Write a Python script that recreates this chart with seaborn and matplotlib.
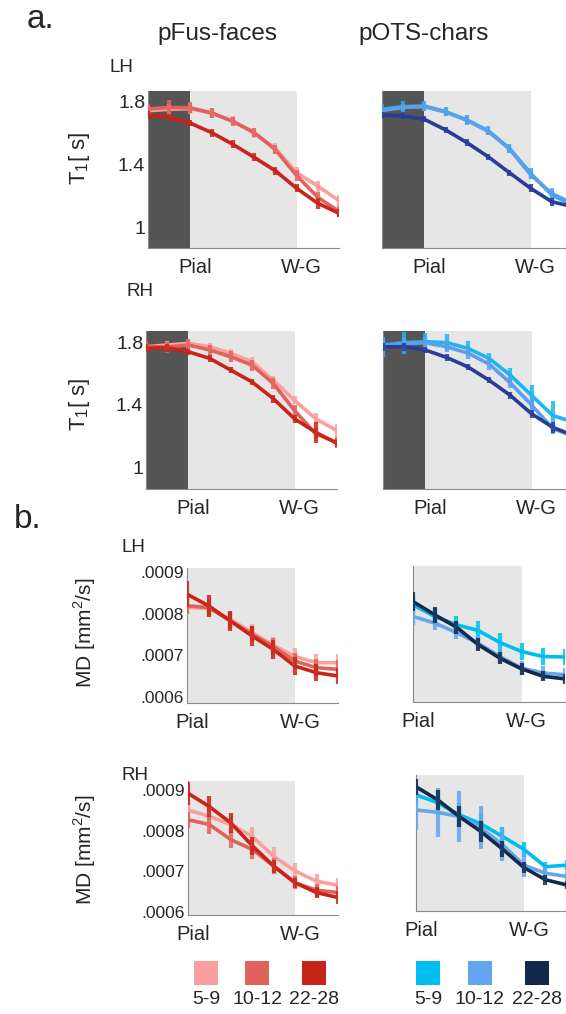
import numpy as np
import pandas as pd
import matplotlib
matplotlib.use("Agg")
import matplotlib.pyplot as plt
import matplotlib.transforms as mtransforms
import seaborn as sns

# ---- data -------------------------------------------------------------
ages = ["5-9", "10-12", "22-28"]
red_colors = ["#F9A09C", "#E0625D", "#C82418"]
blue_colors_t1 = ["#1BB6F0", "#5E9EEA", "#283C98"]
blue_colors_md = ["#00BDF0", "#62A6EE", "#13294B"]

t1_depth = [0, 1, 2, 3, 4, 5, 6, 7, 8, 9]
md_depth = [2, 3, 4, 5, 6, 7, 8, 9]

# T1 [s], left hemisphere
t1_lh_faces_5_9 = [1.744, 1.753, 1.757, 1.728, 1.680, 1.600, 1.504, 1.348, 1.262, 1.168]
t1_lh_faces_10_12 = [1.755, 1.765, 1.762, 1.730, 1.675, 1.605, 1.495, 1.330, 1.190, 1.100]
t1_lh_faces_22_28 = [1.717, 1.702, 1.664, 1.604, 1.529, 1.446, 1.360, 1.248, 1.152, 1.088]
t1_lh_faces_err = [[0.03, 0.035, 0.035, 0.03, 0.03, 0.03, 0.035, 0.035, 0.035, 0.035],
                   [0.035, 0.045, 0.035, 0.03, 0.03, 0.03, 0.03, 0.035, 0.035, 0.035],
                   [0.025, 0.02, 0.02, 0.025, 0.025, 0.025, 0.025, 0.025, 0.035, 0.025]]

t1_lh_chars_5_9 = [1.753, 1.770, 1.774, 1.738, 1.685, 1.616, 1.504, 1.344, 1.205, 1.140]
t1_lh_chars_10_12 = [1.745, 1.765, 1.770, 1.735, 1.683, 1.612, 1.500, 1.335, 1.215, 1.150]
t1_lh_chars_22_28 = [1.717, 1.710, 1.689, 1.621, 1.540, 1.450, 1.348, 1.248, 1.162, 1.130]
t1_lh_chars_err = [[0.035, 0.035, 0.035, 0.03, 0.03, 0.03, 0.03, 0.035, 0.035, 0.035],
                   [0.025, 0.025, 0.025, 0.025, 0.025, 0.025, 0.025, 0.03, 0.035, 0.035],
                   [0.02, 0.02, 0.02, 0.02, 0.02, 0.02, 0.02, 0.025, 0.025, 0.025]]

# T1 [s], right hemisphere
t1_rh_faces_5_9 = [1.770, 1.781, 1.792, 1.770, 1.728, 1.674, 1.557, 1.429, 1.312, 1.237]
t1_rh_faces_10_12 = [1.772, 1.768, 1.781, 1.749, 1.706, 1.653, 1.536, 1.365, 1.216, 1.162]
t1_rh_faces_22_28 = [1.760, 1.764, 1.738, 1.696, 1.621, 1.546, 1.440, 1.312, 1.226, 1.156]
t1_rh_faces_err = [[0.025, 0.025, 0.025, 0.025, 0.025, 0.03, 0.03, 0.025, 0.035, 0.045],
                   [0.035, 0.035, 0.035, 0.035, 0.035, 0.035, 0.035, 0.035, 0.035, 0.035],
                   [0.025, 0.025, 0.02, 0.02, 0.02, 0.02, 0.025, 0.025, 0.065, 0.025]]

t1_rh_chars_5_9 = [1.781, 1.796, 1.802, 1.796, 1.760, 1.696, 1.589, 1.461, 1.333, 1.290]
t1_rh_chars_10_12 = [1.770, 1.790, 1.795, 1.770, 1.730, 1.660, 1.540, 1.400, 1.250, 1.200]
t1_rh_chars_22_28 = [1.770, 1.770, 1.749, 1.702, 1.642, 1.557, 1.461, 1.344, 1.258, 1.205]
t1_rh_chars_err = [[0.045, 0.07, 0.055, 0.055, 0.045, 0.035, 0.045, 0.065, 0.09, 0.05],
                   [0.065, 0.045, 0.035, 0.035, 0.035, 0.035, 0.035, 0.045, 0.035, 0.035],
                   [0.025, 0.025, 0.02, 0.02, 0.02, 0.02, 0.02, 0.025, 0.035, 0.025]]

# MD [mm2/s], left hemisphere
md_lh_faces_5_9 = [0.000815, 0.000813, 0.000787, 0.000755, 0.000724, 0.000697, 0.000682, 0.000682]
md_lh_faces_10_12 = [0.000819, 0.000815, 0.000783, 0.000751, 0.000721, 0.000686, 0.000670, 0.000666]
md_lh_faces_22_28 = [0.000847, 0.000819, 0.000783, 0.000747, 0.000714, 0.000674, 0.000658, 0.000650]
md_lh_faces_err = [[0.000018, 0.000018, 0.000020, 0.000020, 0.000020, 0.000020, 0.000020, 0.000022],
                   [0.000020, 0.000020, 0.000020, 0.000020, 0.000020, 0.000020, 0.000020, 0.000022],
                   [0.000032, 0.000026, 0.000024, 0.000024, 0.000022, 0.000022, 0.000020, 0.000020]]

md_lh_chars_5_9 = [0.000823, 0.000795, 0.000775, 0.000761, 0.000732, 0.000710, 0.000698, 0.000697]
md_lh_chars_10_12 = [0.000795, 0.000779, 0.000756, 0.000730, 0.000698, 0.000670, 0.000658, 0.000654]
md_lh_chars_22_28 = [0.000831, 0.000799, 0.000769, 0.000727, 0.000694, 0.000668, 0.000650, 0.000644]
md_lh_chars_err = [[0.000022, 0.000020, 0.000022, 0.000022, 0.000022, 0.000020, 0.000020, 0.000020],
                   [0.000020, 0.000016, 0.000016, 0.000016, 0.000016, 0.000016, 0.000016, 0.000016],
                   [0.000022, 0.000020, 0.000016, 0.000016, 0.000014, 0.000014, 0.000012, 0.000012]]

# MD [mm2/s], right hemisphere
md_rh_faces_5_9 = [0.000851, 0.000835, 0.000815, 0.000786, 0.000737, 0.000701, 0.000676, 0.000666]
md_rh_faces_10_12 = [0.000827, 0.000815, 0.000778, 0.000754, 0.000713, 0.000672, 0.000654, 0.000648]
md_rh_faces_22_28 = [0.000892, 0.000859, 0.000819, 0.000763, 0.000713, 0.000672, 0.000648, 0.000636]
md_rh_faces_err = [[0.000022, 0.000022, 0.000022, 0.000024, 0.000022, 0.000020, 0.000018, 0.000018],
                   [0.000020, 0.000022, 0.000020, 0.000024, 0.000020, 0.000016, 0.000016, 0.000016],
                   [0.000028, 0.000026, 0.000024, 0.000022, 0.000016, 0.000012, 0.000014, 0.000016]]

md_rh_chars_5_9 = [0.000888, 0.000869, 0.000839, 0.000817, 0.000786, 0.000754, 0.000711, 0.000715]
md_rh_chars_10_12 = [0.000851, 0.000845, 0.000835, 0.000807, 0.000766, 0.000715, 0.000695, 0.000687]
md_rh_chars_22_28 = [0.000908, 0.000876, 0.000835, 0.000798, 0.000755, 0.000709, 0.000679, 0.000666]
md_rh_chars_err = [[0.000025, 0.000030, 0.000030, 0.000025, 0.000022, 0.000018, 0.000012, 0.000012],
                   [0.000050, 0.000060, 0.000063, 0.000053, 0.000040, 0.000030, 0.000016, 0.000014],
                   [0.000020, 0.000025, 0.000025, 0.000025, 0.000020, 0.000014, 0.000012, 0.000010]]

# ---- style ------------------------------------------------------------
sns.set_style("white")
plt.rcParams["font.family"] = ["Liberation Sans", "DejaVu Sans"]
plt.rcParams["mathtext.fontset"] = "custom"
plt.rcParams["mathtext.rm"] = "Liberation Sans"

W, H = 566, 1014
fig = plt.figure(figsize=(W / 100, H / 100), dpi=100)
DARK_GRAY = "#555555"
LIGHT_GRAY = "#E6E6E6"
AXIS_GRAY = "#8A8A8A"


def px_axes(x0, y0, x1, y1):
    return fig.add_axes([x0 / W, 1 - y1 / H, (x1 - x0) / W, (y1 - y0) / H])


def draw_panel(ax, depth, series, errs, colors, ylim, dark_band):
    frames = []
    for age, vals, err in zip(ages, series, errs):
        frames.append(pd.DataFrame({"depth": depth, "value": vals, "err": err, "age": age}))
    df = pd.concat(frames, ignore_index=True)

    if dark_band:
        ax.axvspan(0, 2, color=DARK_GRAY, lw=0, zorder=0)
    ax.axvspan(2, 7, color=LIGHT_GRAY, lw=0, zorder=0)

    sns.lineplot(data=df, x="depth", y="value", hue="age", hue_order=ages,
                 palette=colors, linewidth=2.6, legend=False, ax=ax, zorder=3)
    for age, col in zip(ages, colors):
        sub = df[df["age"] == age]
        ax.vlines(sub["depth"], sub["value"] - sub["err"], sub["value"] + sub["err"],
                  color=col, lw=3, alpha=0.85, zorder=3)

    ax.set_xlim(depth[0], 9)
    ax.set_ylim(*ylim)
    ax.set_xlabel("")
    ax.set_ylabel("")
    sns.despine(ax=ax)
    for side in ["left", "bottom"]:
        ax.spines[side].set_color(AXIS_GRAY)
        ax.spines[side].set_linewidth(0.8)
    ax.set_xticks([2, 7, 8, 9])
    ax.set_xticklabels(["Pial", "W-G", "", ""], fontsize=14.5)
    ax.xaxis.get_major_ticks()[0].tick1line.set_visible(False)
    ax.tick_params(axis="x", direction="in", length=4, color=AXIS_GRAY, pad=7)
    ax.tick_params(axis="y", length=0, pad=2)
    shift = mtransforms.ScaledTranslation(5 / 100, 0, fig.dpi_scale_trans)
    for lab in ax.get_xticklabels():
        lab.set_transform(lab.get_transform() + shift)


t1_ylim = (0.866, 1.87)

ax = px_axes(148, 91, 339, 248)
draw_panel(ax, t1_depth, [t1_lh_faces_5_9, t1_lh_faces_10_12, t1_lh_faces_22_28],
           t1_lh_faces_err, red_colors, t1_ylim, True)
ax.set_yticks([1, 1.4, 1.8])
ax.set_yticklabels(["1", "1.4", "1.8"], fontsize=14)

ax = px_axes(382, 91, 573, 248)
draw_panel(ax, t1_depth, [t1_lh_chars_5_9, t1_lh_chars_10_12, t1_lh_chars_22_28],
           t1_lh_chars_err, blue_colors_t1, t1_ylim, True)
ax.set_yticks([])

ax = px_axes(146, 331, 337, 489)
draw_panel(ax, t1_depth, [t1_rh_faces_5_9, t1_rh_faces_10_12, t1_rh_faces_22_28],
           t1_rh_faces_err, red_colors, t1_ylim, True)
ax.set_yticks([1, 1.4, 1.8])
ax.set_yticklabels(["1", "1.4", "1.8"], fontsize=14)

ax = px_axes(383, 331, 574, 489)
draw_panel(ax, t1_depth, [t1_rh_chars_5_9, t1_rh_chars_10_12, t1_rh_chars_22_28],
           t1_rh_chars_err, blue_colors_t1, t1_ylim, True)
ax.set_yticks([])

md_ticks = [0.0006, 0.0007, 0.0008, 0.0009]
md_ticklabels = [".0006", ".0007", ".0008", ".0009"]

ax = px_axes(187, 568, 338, 703)
draw_panel(ax, md_depth, [md_lh_faces_5_9, md_lh_faces_10_12, md_lh_faces_22_28],
           md_lh_faces_err, red_colors, (0.000585, 0.00091), False)
ax.set_yticks(md_ticks)
ax.set_yticklabels(md_ticklabels, fontsize=12.5)

ax = px_axes(413, 566, 565, 702)
draw_panel(ax, md_depth, [md_lh_chars_5_9, md_lh_chars_10_12, md_lh_chars_22_28],
           md_lh_chars_err, blue_colors_md, (0.000588, 0.000917), False)
ax.set_yticks([])

ax = px_axes(188, 781, 338, 915)
draw_panel(ax, md_depth, [md_rh_faces_5_9, md_rh_faces_10_12, md_rh_faces_22_28],
           md_rh_faces_err, red_colors, (0.000593, 0.000922), False)
ax.set_yticks(md_ticks)
ax.set_yticklabels(md_ticklabels, fontsize=12.5)

ax = px_axes(416, 775, 567, 911)
draw_panel(ax, md_depth, [md_rh_chars_5_9, md_rh_chars_10_12, md_rh_chars_22_28],
           md_rh_chars_err, blue_colors_md, (0.000602, 0.000937), False)
ax.set_yticks([])

# ---- texts ------------------------------------------------------------
def ftext(x, y, s, **kw):
    fig.text(x / W, 1 - y / H, s, ha="center", va="center", **kw)


ftext(40, 20, "a.", fontsize=24)
ftext(28, 519, "b.", fontsize=24)
ftext(217, 34, "pFus-faces", fontsize=17.5)
ftext(424, 34, "pOTS-chars", fontsize=17.5)
ftext(121, 67, "LH", fontsize=13.5)
ftext(140, 292, "RH", fontsize=13.5)
ftext(133, 547, "LH", fontsize=13.5)
ftext(135, 775, "RH", fontsize=13.5)
ftext(80, 158, r"T$_\mathregular{1}$[ s]", fontsize=16, rotation=90)
ftext(80, 404, r"T$_\mathregular{1}$[ s]", fontsize=16, rotation=90)
ftext(85, 633, r"MD [mm$^\mathregular{2}$/s]", fontsize=15, rotation=90)
ftext(85, 850, r"MD [mm$^\mathregular{2}$/s]", fontsize=15, rotation=90)

# ---- legend -----------------------------------------------------------
leg = fig.add_axes([0, 0, 1, 1], zorder=-1)
leg.set_xlim(0, W)
leg.set_ylim(H, 0)
leg.axis("off")
red_legend_x = [206, 257, 314]
blue_legend_x = [428, 480, 537]
for xs, cols in [(red_legend_x, red_colors), (blue_legend_x, blue_colors_md)]:
    leg.scatter(xs, [973] * 3, marker="s", s=300, c=cols, linewidths=0)
    for x, age in zip(xs, ages):
        leg.text(x, 1000, age, ha="center", va="center", fontsize=14)

fig.savefig("out.png", dpi=100)
